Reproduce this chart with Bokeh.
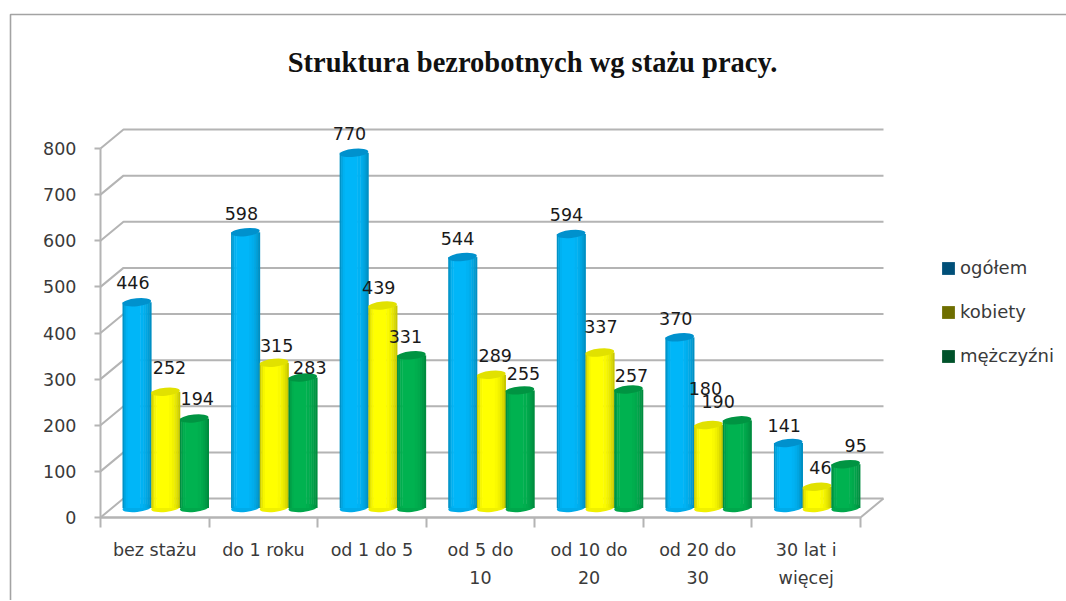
from bokeh.plotting import figure
from bokeh.models import ColumnDataSource, FixedTicker, Range1d, Legend, LegendItem
from bokeh.core.properties import value
from bokeh.embed import file_html
from bokeh.resources import INLINE

title = "Struktura bezrobotnych wg stażu pracy."
categories = ["bez stażu", "do 1 roku", "od 1 do 5", "od 5 do\n10", "od 10 do\n20", "od 20 do\n30", "30 lat i\nwięcej"]
ogolem = [446, 598, 770, 544, 594, 370, 141]
kobiety = [252, 315, 439, 289, 337, 180, 46]
mezczyzni = [194, 283, 331, 255, 257, 190, 95]
series_names = ["ogółem", "kobiety", "mężczyźni"]
y_ticks = [0, 100, 200, 300, 400, 500, 600, 700, 800]

# ---- styling and layout (pixels) ----
W, H = 1066, 600
PAGE = 0
X0_PX, Y0_PX = 100, 517          # where x=0 / y=0 fall in the window
PX_X = 760 / 7                   # px per category
PX_Y = 369 / 800                 # px per unit
WALL_DX, WALL_DY = 23, 19        # 3-D depth of the back wall
BAR_DY = 9.5                     # bars stand mid depth
BAR_OFF, BAR_W = 22, 28.7
TILT = 0.1
GRID = "#b4b4b4"
INK = "#3a3a3a"
FONT = "DejaVu Sans"

def dx(px):
    return px / PX_X

def dy(px):
    return px / PX_Y

p = figure(width=W, height=H, output_backend="svg", toolbar_location=None, min_border=0,
           x_range=Range1d(dx(PAGE - X0_PX), dx(PAGE + W - X0_PX)),
           y_range=Range1d(dy(Y0_PX - PAGE - H), dy(Y0_PX - PAGE)))
p.grid.visible = False
p.outline_line_color = None
p.background_fill_color = "white"

# outer chart border
p.line([dx(10 - X0_PX)] * 2 + [dx(W + PAGE - X0_PX)],
       [dy(Y0_PX - PAGE - H), dy(Y0_PX - 14), dy(Y0_PX - 14)],
       line_color="#a3a3a3", line_width=1.6)

# walls of the 3-D box
wx, wy = dx(WALL_DX), dy(WALL_DY)
n = len(categories)
p.multi_line([[0, wx, wx + n] for _ in y_ticks], [[t, t + wy, t + wy] for t in y_ticks],
             line_color=GRID, line_width=2)
p.line([0, n, n + wx], [0, 0, wy], line_color=GRID, line_width=2)

# cylinders: vertical strips for the shading, ellipses for the ends
profile = [(0.00, 0.05, 0.80), (0.05, 0.11, 0.90), (0.11, 0.18, 0.97), (0.18, 0.62, 1.00),
           (0.62, 0.72, 0.98), (0.72, 0.80, 0.95), (0.80, 0.87, 0.91), (0.87, 0.94, 0.86), (0.94, 1.00, 0.79)]
colors = [(0, 182, 248), (255, 255, 0), (0, 178, 80)]
top_shade = [(0, 145, 205), (225, 225, 0), (0, 148, 66)]
legend_colors = ["#004f78", "#6e6e00", "#00522a"]
series = [ogolem, kobiety, mezczyzni]

def hexcol(c, k=1.0):
    return "#%02x%02x%02x" % tuple(int(round(v * k)) for v in c)

bar_base = dy(Y0_PX - 507.5)
for k, vals in enumerate(series):
    left = [i + dx(BAR_OFF + k * BAR_W) for i in range(n)]
    centre = [l + dx(BAR_W / 2) for l in left]
    tops = [bar_base + v for v in vals]
    p.ellipse(centre, [bar_base] * n, width=dx(BAR_W), height=dy(8), angle=TILT,
              fill_color=hexcol(colors[k], 0.94), line_color=None)
    for f0, f1, shade in profile:
        src = ColumnDataSource(dict(
            left=[l + dx(BAR_W) * f0 for l in left],
            right=[l + dx(BAR_W) * f1 + dx(0.4) for l in left],
            top=tops, bottom=[bar_base] * n))
        p.quad(left="left", right="right", top="top", bottom="bottom", source=src,
               fill_color=hexcol(colors[k], shade), line_color=None)
    p.ellipse(centre, tops, width=dx(BAR_W), height=dy(8), angle=TILT,
              fill_color=hexcol(top_shade[k]), line_color=None)

# data labels sit where they were placed by hand in the original
label_dx = [[-4, -4, -4.5, -5, -4.6, -4, -4],
            [4, 2.5, -4, 4, 1, -3, 3.5],
            [3, 7, -6, 3.5, 3, -19, 10]]
label_dy = [[-20, -19, -19, -19, -19.5, -19, -17.5],
            [-24, -17, -18, -19, -26, -36.5, -19],
            [-20, -10, -19, -17, -14, -19, -19]]
for k, vals in enumerate(series):
    centre = [i + dx(BAR_OFF + k * BAR_W + BAR_W / 2) for i in range(n)]
    src = ColumnDataSource(dict(x=centre, y=[bar_base + v for v in vals], t=[str(v) for v in vals],
                                xo=label_dx[k], yo=label_dy[k]))
    p.text("x", "y", text="t", source=src, x_offset="xo", y_offset="yo",
           text_align="center", text_baseline="middle", text_font=value(FONT),
           text_font_size="17.5px", text_color="#1a1a1a")

# title
p.text([dx(532 - X0_PX)], [dy(Y0_PX - 62)], text=[title], text_align="center", text_baseline="middle",
       text_font=value("Liberation Serif"), text_font_style="bold", text_font_size="28.5px",
       text_color="#111111")

# axes sit inside the frame at their data position
yax = p.yaxis[0]
yax.fixed_location = 0
yax.bounds = (0, 800)
yax.ticker = FixedTicker(ticks=y_ticks)
yax.axis_line_color = GRID
yax.axis_line_width = 2
yax.major_tick_line_color = GRID
yax.major_tick_line_width = 2
yax.major_tick_in = 0
yax.major_tick_out = 6
yax.minor_tick_line_color = None
yax.major_label_standoff = 18
yax.major_label_text_font = FONT
yax.major_label_text_font_size = "17.5px"
yax.major_label_text_color = INK
yax.major_label_orientation = "horizontal"

xax = p.xaxis[0]
xax.fixed_location = 0
xax.bounds = (0, n)
xax.ticker = FixedTicker(ticks=[i + 0.5 for i in range(n)], minor_ticks=list(range(n + 1)))
xax.major_label_overrides = {i + 0.5: c for i, c in enumerate(categories)}
xax.axis_line_color = GRID
xax.axis_line_width = 2
xax.major_tick_line_color = None
xax.major_tick_in = 0
xax.major_tick_out = 0
xax.minor_tick_line_color = GRID
xax.minor_tick_line_width = 2
xax.minor_tick_in = 0
xax.minor_tick_out = 10
xax.major_label_standoff = 12
xax.major_label_text_font = FONT
xax.major_label_text_font_size = "17.5px"
xax.major_label_text_color = INK
xax.major_label_text_line_height = 1.4

# legend: the keys are drawn by the legend, their source box is off the visible range
items = []
for name, col in zip(series_names, legend_colors):
    r = p.quad(left=[-100], right=[-99], top=[-100000], bottom=[-100001], fill_color=col, line_color=None)
    items.append(LegendItem(label=name, renderers=[r]))
legend = Legend(items=items, location=(940 - PAGE, H - (366 - PAGE)), orientation="vertical",
                spacing=23, padding=0, margin=0, glyph_width=16, glyph_height=16,
                label_width=100, label_height=14, label_standoff=4,
                border_line_color=None, background_fill_alpha=0,
                label_text_font=FONT, label_text_font_size="18px", label_text_color=INK)
p.add_layout(legend, "center")

open("out.html", "w").write(file_html(p, INLINE))
